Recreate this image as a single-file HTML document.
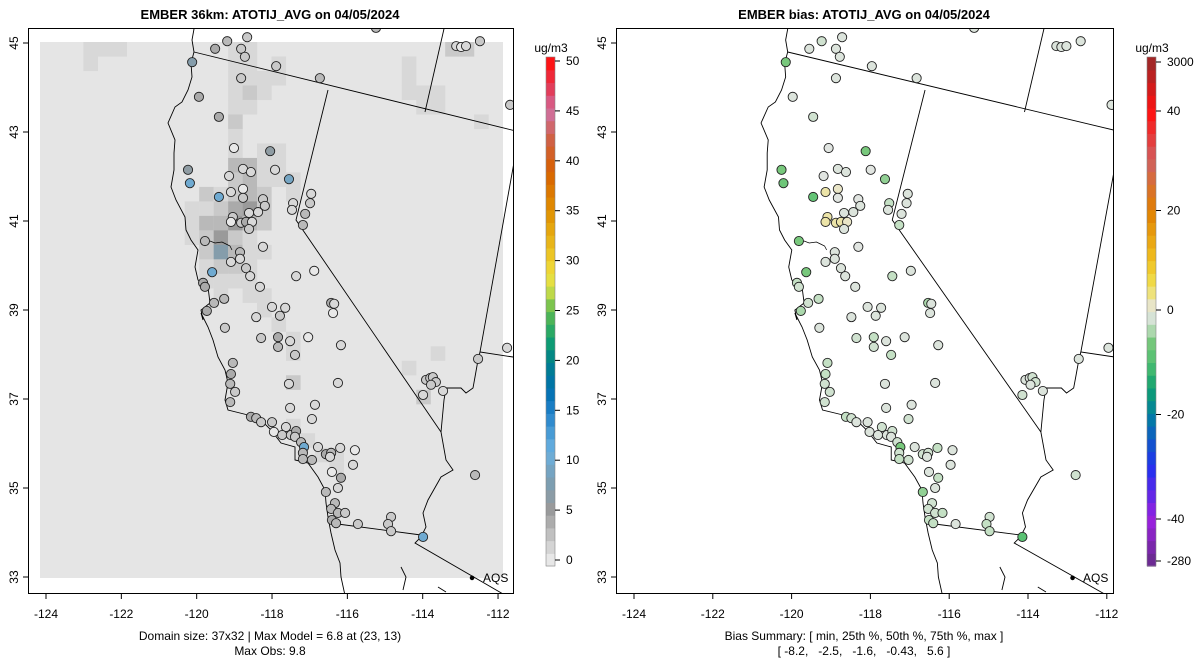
<!DOCTYPE html>
<html><head><meta charset="utf-8"><style>
html,body{margin:0;padding:0;background:#fff}
svg{display:block;font-family:"Liberation Sans",sans-serif}
</style></head><body>
<svg id="root" width="1200" height="672" viewBox="0 0 1200 672" xmlns="http://www.w3.org/2000/svg">
<defs>
<clipPath id="clipL"><rect x="28" y="28" width="485" height="565"/></clipPath>
<clipPath id="clipR"><rect x="616" y="28" width="497" height="565"/></clipPath>
</defs>
<text x="270" y="19" text-anchor="middle" font-size="13" font-weight="bold">EMBER 36km: ATOTIJ_AVG on 04/05/2024</text>
<text x="864" y="19" text-anchor="middle" font-size="13" font-weight="bold">EMBER bias: ATOTIJ_AVG on 04/05/2024</text>
<g id="leftPanel"></g>
<g id="rightPanel"></g>
<g id="leftBar"></g>
<g id="rightBar"></g>
<text x="270" y="640" text-anchor="middle" font-size="12">Domain size: 37x32 | Max Model = 6.8 at (23, 13)</text>
<text x="270" y="655" text-anchor="middle" font-size="12">Max Obs: 9.8</text>
<text x="864" y="640" text-anchor="middle" font-size="12">Bias Summary: [ min, 25th %, 50th %, 75th %, max ]</text>
<text x="864" y="655" text-anchor="middle" font-size="12" xml:space="preserve">[ -8.2,   -2.5,   -1.6,   -0.43,   5.6 ]</text>
</svg>
<script>
// ---- data ----
const lonTicks = [-124,-122,-120,-118,-116,-114,-112];
const latTicks = [33,35,37,39,41,43,45];
const obsTicks = [0,5,10,15,20,25,30,35,40,45,50];
const biasTicks = [3000,40,20,0,-20,-40,-280];
const stationLon = [-119.19,-118.66,-119.51,-118.82,-118.72,-120.12,-117.89,-116.73,-118.82,-119.94,-119.41,-119.01,-118.05,-120.23,-118.77,-118.56,-117.92,-120.18,-119.14,-117.55,-119.41,-119.09,-118.77,-118.77,-118.24,-118.19,-116.96,-116.99,-117.44,-117.47,-117.12,-117.18,-118.61,-118.37,-119.04,-119.09,-118.82,-118.69,-118.53,-118.61,-118.24,-119.78,-118.85,-119.09,-118.85,-118.69,-118.58,-119.59,-117.36,-116.88,-119.83,-119.78,-118.32,-119.27,-119.54,-118.00,-117.65,-116.43,-116.35,-116.38,-119.73,-118.42,-117.79,-115.24,-112.48,-113.11,-112.98,-112.85,-111.68,
-119.25,-118.29,-117.84,-117.84,-117.52,-117.39,-117.04,-116.17,-119.04,-119.09,-119.11,-118.98,-119.11,-117.55,-116.25,-117.52,-116.86,-116.94,-118.56,-118.42,-118.29,-118.00,-117.95,-117.63,-117.73,-117.50,-117.36,-117.39,-117.23,-117.15,-117.18,-117.18,-116.94,-116.78,-116.57,-116.43,-116.46,-116.19,-115.80,-115.85,-116.41,-116.17,-116.25,-116.57,-116.33,-116.43,-116.25,-116.06,-116.41,-116.30,-115.72,-114.84,-114.92,-114.84,-113.99,-113.91,-113.80,-113.73,-113.65,-113.78,-113.46,-113.99,-112.53,-111.76,-112.61];
const stationLat = [45.04,45.13,44.87,44.87,44.69,44.57,44.48,44.21,44.21,43.79,43.34,42.64,42.57,42.15,42.17,42.10,42.15,41.85,42.01,41.94,41.54,41.65,41.72,41.52,41.49,41.34,41.61,41.40,41.40,41.25,41.16,40.91,41.18,41.20,41.09,40.98,40.96,40.98,40.98,40.82,40.42,40.55,40.30,40.08,40.15,39.94,39.76,39.85,39.76,39.88,39.61,39.52,39.52,39.25,39.16,39.07,39.05,39.16,39.14,38.93,38.98,38.84,38.87,45.34,45.04,44.93,44.91,44.93,43.61,
38.60,38.37,38.39,38.17,38.30,37.99,38.39,38.21,37.81,37.56,37.34,37.16,36.93,37.34,37.36,36.80,36.87,36.55,36.60,36.57,36.48,36.48,36.26,36.37,36.19,36.19,36.28,36.15,36.03,35.92,35.79,35.65,35.63,35.92,35.76,35.79,35.70,35.90,35.85,35.52,35.36,35.23,35.00,34.91,34.66,34.53,34.44,34.44,34.28,34.21,34.19,34.35,34.19,34.03,33.90,37.43,37.47,37.49,37.38,37.32,37.18,37.09,37.90,38.15,35.29];
const stationObs = [3,2,4,2,2,7,2,3,2,4,4,0,6,6,1,1,1,10,1,9,10,1,0,2,2,2,1,2,1,1,3,3,1,1,2,0,2,4,1,2,1,3,3,1,1,2,1,10,1,0,4,4,1,3,3,1,1,4,1,0,4,1,2,3,2,1,0,1,2,
2,2,4,3,1,2,0,1,3,4,3,2,3,1,1,1,1,1,4,3,2,2,0,1,2,2,4,2,3,10,3,3,3,1,4,3,1,1,0,1,0,4,1,3,3,3,3,2,4,3,2,2,2,2,10,2,2,2,2,2,1,1,2,1,3];
const stationBias = [-2,-1,-1,-1,-1,-6,-1,-1,-1,-1,-2,-0.5,-6,-6,-1,-1,-0.5,-7,-0.5,-5,-8,2,1,-0.5,-0.5,-1,-1,-1,-3,-1,-1,-3,-1,-1,2,2,2,2,1,-1,-0.5,-6,-1,-1,-1,-1,-1,-6,-3,-1,-3,-2,-1,-3,-2,-1,-1,-4,-1,-1,-4,-1,-1,-1,-1,-1,-1,-1,-1,
-1,-2,-3,-2,-1,-3,-1,-1,-3,-3,-2,-2,-2,-1,-1,-1,-1,-2,-3,-2,-1,-1,-1,-2,-1,-1,-2,-1,-2,-6,-2,-3,-2,-1,-2,-2,-1,-3,-1,-1,-1,-3,-1,-5,-2,-2,-2,-3,-3,-3,-1,-2,-3,-3,-9,-1,-1,-2,-2,-1,-1,-2,-1,-1,-2];
const cellCol = [3,4,5,13,14,28,29, 3,13,14,16,25, 13,14,15,16,25, 13,14,15,25,26,27, 13,14,26,27, 13,30, 13, 13,15,16, 13,14,15,16, 13,14,15,16,17, 11,12,13,14,15,17, 10,11,12,13,14,15, 10,11,12,13,14,15, 10,11,12,13,14, 11,12,13,14,15, 11,12,13,14, 11,12,13,14, 12,14,15, 15, 16, 17,17,17, 25,27,26, 17,18,19,20,20];
const cellRow = [0,0,0,0,0,0,0, 1,1,1,1,1, 2,2,2,2,2, 3,3,3,3,3,3, 4,4,4,4, 5,5, 6, 7,7,7, 8,8,8,8, 9,9,9,9,9, 10,10,10,10,10,10, 11,11,11,11,11,11, 12,12,12,12,12,12, 13,13,13,13,13, 14,14,14,14,14, 15,15,15,15, 16,16,16,16, 17,17,17, 18, 19, 20,21,23, 22,21,24, 26,27,28,28,29];
const cellVal = [1,1,1,1,1,2,2, 1,1,1,1,1, 1,1,1,1,1, 1,2,1,1,1,1, 1,1,1,1, 2,1, 1, 1,1,1, 3,3,1,1, 2,3,1,1,1, 2,1,2,3,2,1, 1,1,2,4,5,2, 1,3,3,5,3,2, 1,2,5,2,1, 2,7,3,1,1, 1,2,2,1, 1,1,1,1, 1,1,1, 1, 1, 1,1,2, 1,1,2, 1,1,1,1,1];

// ---- scales ----
const NS='http://www.w3.org/2000/svg';
function mk(tag,attrs,parent){const e=document.createElementNS(NS,tag);for(const k in attrs)e.setAttribute(k,attrs[k]);if(parent)parent.appendChild(e);return e;}
const yLat = lat => 43 + (45-lat)*44.5;
const xLonL = lon => 46 + (lon+124)*37.67;
const xLonR = lon => 636 + (lon+124)*38.6;
const xTickR = lon => 634 + (lon+124)*39.4;
const cellX = c => 40 + c*14.47, cellY = r => 42 + r*14.49;
function hex(h){return [parseInt(h.substr(1,2),16),parseInt(h.substr(3,2),16),parseInt(h.substr(5,2),16)];}
function interp(stops,v){
  if(v<=stops[0][0]) return stops[0][1];
  for(let i=1;i<stops.length;i++){ if(v<=stops[i][0]){const a=stops[i-1],b=stops[i];const t=(v-a[0])/(b[0]-a[0]);const ca=hex(a[1]),cb=hex(b[1]);return 'rgb('+ca.map((x,j)=>Math.round(x+(cb[j]-x)*t)).join(',')+')';}}
  return stops[stops.length-1][1];
}
const obsStops=[[0,'#e8e8e8'],[5,'#9a9a9a'],[8,'#7a9fb4'],[11,'#6ab0e0'],[15,'#1e80c8'],[17,'#0070b0'],[20,'#00808a'],[22,'#10a070'],[25,'#60bb50'],[27,'#c8dc48'],[28.5,'#f0e040'],[31,'#ebc020'],[35,'#e09000'],[39,'#d86000'],[42,'#d06040'],[45,'#d070a0'],[47,'#e04060'],[50,'#ff1010']];
const biasStops=[[-280,'#6a2a90'],[-40,'#9a20e0'],[-30,'#2030f0'],[-20,'#0080a0'],[-15,'#10a070'],[-10,'#50c070'],[-6,'#78c87c'],[-3,'#c4e0c4'],[-1,'#dce4dc'],[0,'#e5e5e5'],[2,'#ece4a8'],[5,'#f0e050'],[10,'#f0c020'],[20,'#e08000'],[30,'#d06060'],[40,'#ff1010'],[3000,'#a02828']];
const obsY = v => 560 - v*9.98;
function biasY(v){const d=[-280,-40,0,40,3000],r=[561,519,310,111,62];for(let i=1;i<d.length;i++){if(v<=d[i]){return r[i-1]+(v-d[i-1])/(d[i]-d[i-1])*(r[i]-r[i-1]);}}return 62;}

// ---- map geometry (left-panel pixel frame) ----
const coast="194,20 194,29 192,40 194,52 191,63 192,77 188,90 182,102 175,107 168,123 175,140 174,153 174,170 171,187 176,200 185,217 186,230 191,240 198,250 195,267 198,280 208,287 210,303 201,310 203,320 201,313 208,327 213,340 218,357 225,370 228,383 225,400 228,410 248,415 261,420 271,430 281,443 295,447 295,460 308,463 318,477 325,490 326,503 328,517 331,533 335,550 340,563 341,577 346,600";
const bayline="203,245 210,241 215,243 222,242 226,244 230,246 232,250";
const borders=[
 "194,52 520,132","328,90 296,220 441,432","446,20 425,112","518,140 480,352 513,357",
 "441,432 444,400 446,388 461,388 466,393 473,388 475,377 478,360 480,352",
 "441,432 446,460 453,470 441,477 428,500 423,513 426,527 421,537 415,543 510,598",
 "330,523 421,535","401,567 406,577 403,590","438,587 446,592"];

function drawMap(panel,clip,transform){
  const g=mk('g',{'clip-path':'url(#'+clip+')'},panel);
  const gm=mk('g',{transform:transform},g);
  const c=mk('polyline',{points:coast,fill:'none',stroke:'#000','stroke-width':0.9,'vector-effect':'non-scaling-stroke'},gm);
  
  
  const b=mk('polyline',{points:bayline,fill:'none',stroke:'#000','stroke-width':0.7,'vector-effect':'non-scaling-stroke'},gm);
  
  
  borders.forEach(p=>{
    const l=mk('polyline',{points:p,fill:'none',stroke:'#000','stroke-width':0.9,'vector-effect':'non-scaling-stroke'},gm);
    
    
  });
  return g;
}
function drawAxes(panel,x0,w,xt){
  const f=mk('rect',{x:x0+0.5,y:28.5,width:w,height:565,fill:'none',stroke:'#000','stroke-width':1},panel);
  
  
  lonTicks.forEach(v=>{
    const x=xt(v);
    const t=mk('line',{x1:x,x2:x,y1:593.5,y2:599,stroke:'#000'},panel);
    
    
    const l=mk('text',{x:x,y:618,'text-anchor':'middle','font-size':12},panel);
    l.textContent=v;
    
    
  });
  latTicks.forEach(v=>{
    const y=yLat(v);
    const t=mk('line',{x1:x0-5,x2:x0+0.5,y1:y,y2:y,stroke:'#000'},panel);
    
    
    const l=mk('text',{x:x0-10,y:y,'text-anchor':'middle','font-size':12,transform:'rotate(-90 '+(x0-10)+' '+y+')'},panel);
    l.textContent=v;
    
    
  });
}

// ---- left panel ----
const L=document.getElementById('leftPanel');
const gl=mk('g',{'clip-path':'url(#clipL)'},L);
const dom=mk('rect',{x:40,y:42,width:463,height:536,fill:'#e5e5e5'},gl);


cellCol.forEach((c,i)=>{
  const r=mk('rect',{x:cellX(c),y:cellY(cellRow[i]),width:14.6,height:14.6,fill:interp(obsStops,cellVal[i])},gl);
  
  
});
drawMap(L,'clipL','');
const gsL=mk('g',{'clip-path':'url(#clipL)'},L);
stationLon.forEach((lon,i)=>{
  const c=mk('circle',{cx:xLonL(lon),cy:yLat(stationLat[i]),r:4.6,fill:interp(obsStops,stationObs[i]),stroke:'#222','stroke-width':0.9},gsL);
  
  
});
const aq=mk('circle',{cx:xLonL(-112.69),cy:yLat(32.98),r:2.3,fill:'#000'},L);


const aqt=mk('text',{x:483,y:582,'font-size':12},L);aqt.textContent='AQS';


drawAxes(L,28,485,xLonL);

// ---- right panel ----
const R=document.getElementById('rightPanel');
drawMap(R,'clipR','translate(636,0) scale(1.025,1) translate(-46,0)');
const gsR=mk('g',{'clip-path':'url(#clipR)'},R);
stationLon.forEach((lon,i)=>{
  const c=mk('circle',{cx:xLonR(lon),cy:yLat(stationLat[i]),r:4.6,fill:interp(biasStops,stationBias[i]),stroke:'#222','stroke-width':0.9},gsR);
  
  
});
const aq2=mk('circle',{cx:xLonR(-112.69),cy:yLat(32.98),r:2.3,fill:'#000'},R);


const aqt2=mk('text',{x:1083,y:582,'font-size':12},R);aqt2.textContent='AQS';


drawAxes(R,616,497,xTickR);

// ---- colorbars ----
function colorbar(el,x,yTop,yBot,stops,yFn,ticks,n,valAt){
  const h=(yBot-yTop)/n;
  for(let i=0;i<n;i++){
    const y=yBot-(i+1)*h;
    const r=mk('rect',{x:x,y:y,width:9,height:h+0.6,fill:interp(stops,valAt(y+h/2))},el);
    
    
  }
  const fr=mk('rect',{x:x,y:yTop,width:9,height:yBot-yTop,fill:'none',stroke:'#888','stroke-width':0.6},el);
  
  
  ticks.forEach(v=>{
    const y=yFn(v);
    const t=mk('line',{x1:x+9,x2:x+14,y1:y,y2:y,stroke:'#000'},el);
    
    
    const l=mk('text',{x:x+20,y:y+4,'font-size':12},el);l.textContent=v;
    
    
  });
  const tt=mk('text',{x:x+5,y:52,'text-anchor':'middle','font-size':12},el);tt.textContent='ug/m3';
  
  
}
colorbar(document.getElementById('leftBar'),546,57,566,obsStops,obsY,obsTicks,40,y=>(560-y)/9.98);
function biasInv(y){const d=[-280,-40,0,40,3000],r=[561,519,310,111,62];for(let i=1;i<d.length;i++){if(y>=r[i]){return d[i-1]+(y-r[i-1])/(r[i]-r[i-1])*(d[i]-d[i-1]);}}return 3000;}
colorbar(document.getElementById('rightBar'),1147,57,566,biasStops,biasY,biasTicks,40,biasInv);
</script>
</body></html>
